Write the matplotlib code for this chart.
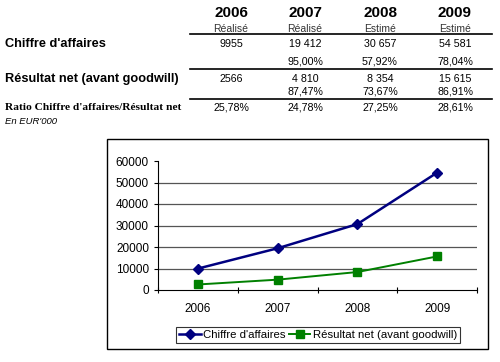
import matplotlib.pyplot as plt
from matplotlib.patches import Rectangle

plt.rcParams["font.family"] = ["Liberation Sans", "DejaVu Sans"]

years = ["2006", "2007", "2008", "2009"]
status = ["Réalisé", "Réalisé", "Estimé", "Estimé"]
ca = [9955, 19412, 30657, 54581]
ca_txt = ["9955", "19 412", "30 657", "54 581"]
ca_growth = ["", "95,00%", "57,92%", "78,04%"]
rn = [2566, 4810, 8354, 15615]
rn_txt = ["2566", "4 810", "8 354", "15 615"]
rn_growth = ["", "87,47%", "73,67%", "86,91%"]
ratio = ["25,78%", "24,78%", "27,25%", "28,61%"]

W, H = 500, 362


def fx(x):
    return x / W


def fy(y):
    return 1 - y / H


def main():
    fig = plt.figure(figsize=(5, 3.62), dpi=100)

    # --- table on top ---
    cols = [231, 305, 380, 455]
    for i, x in enumerate(cols):
        fig.text(fx(x), fy(13), years[i], ha="center", va="center", fontsize=11, fontweight="bold")
        fig.text(fx(x), fy(29), status[i], ha="center", va="center", fontsize=7.5, color="#333333")
        fig.text(fx(x), fy(44), ca_txt[i], ha="center", va="center", fontsize=7.7)
        fig.text(fx(x), fy(61), ca_growth[i], ha="center", va="center", fontsize=7.7)
        fig.text(fx(x), fy(79), rn_txt[i], ha="center", va="center", fontsize=7.7)
        fig.text(fx(x), fy(91), rn_growth[i], ha="center", va="center", fontsize=7.7)
        fig.text(fx(x), fy(108), ratio[i], ha="center", va="center", fontsize=7.7)

    fig.text(fx(5), fy(44), "Chiffre d'affaires", ha="left", va="center", fontsize=9.2, fontweight="bold")
    fig.text(fx(5), fy(79), "Résultat net (avant goodwill)", ha="left", va="center", fontsize=9.2, fontweight="bold")
    fig.text(fx(5), fy(108), "Ratio Chiffre d'affaires/Résultat net", ha="left", va="center",
             fontsize=8.2, fontweight="bold", family=["Liberation Serif", "DejaVu Serif"])
    fig.text(fx(5), fy(122), "En EUR'000", ha="left", va="center", fontsize=6.8, style="italic")

    for y in [34, 69, 99]:
        fig.add_artist(plt.Line2D([fx(190), fx(492)], [fy(y), fy(y)], color="black", lw=1.2))

    # --- chart box ---
    fig.add_artist(Rectangle((fx(107), fy(349)), fx(488 - 107), (349 - 139) / H,
                             fill=False, edgecolor="black", lw=1, transform=fig.transFigure))

    ax = fig.add_axes([fx(158), fy(290), fx(477 - 158), (290 - 161) / H])
    x = range(len(years))
    ax.plot(x, ca, color="#000080", marker="D", markersize=5, lw=1.8, label="Chiffre d'affaires")
    ax.plot(x, rn, color="#008000", marker="s", markersize=5.5, lw=1.4, label="Résultat net (avant goodwill)")

    ax.set_xlim(-0.5, 3.5)
    ax.set_ylim(0, 60000)
    ax.set_yticks(range(0, 60001, 10000))
    ax.set_xticks([-0.5, 0.5, 1.5, 2.5, 3.5])
    ax.set_xticklabels([])
    ax.set_xticks(list(x), minor=True)
    ax.set_xticklabels(years, minor=True)
    ax.tick_params(axis="x", which="minor", length=0, pad=9, labelsize=8.5)
    ax.tick_params(axis="x", which="major", length=4, direction="inout")
    ax.tick_params(axis="y", length=3, labelsize=8.5)
    for v in range(10000, 60000, 10000):
        ax.axhline(v, color="#555555", lw=0.9, zorder=0)
    ax.spines["top"].set_visible(False)
    ax.spines["right"].set_visible(False)

    leg = fig.legend(loc="center", bbox_to_anchor=(fx(318), fy(335)), ncol=2, fontsize=8.2,
                     frameon=True, fancybox=False, edgecolor="black", handlelength=1.9,
                     columnspacing=0.3, handletextpad=0.2, borderpad=0.3)
    leg.get_frame().set_linewidth(0.8)

    fig.savefig("out.png", dpi=100)


if __name__ == "__main__":
    main()
